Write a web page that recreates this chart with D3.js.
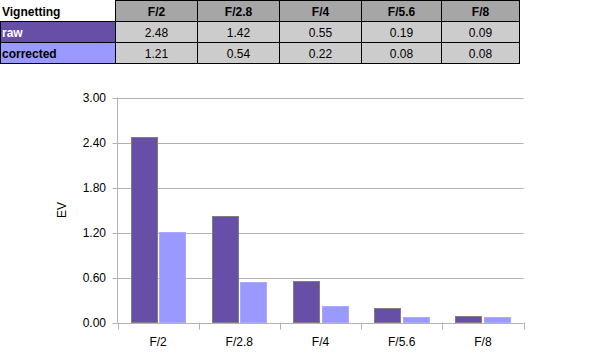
<!DOCTYPE html>
<html><head><meta charset="utf-8">
<script src="https://cdn.jsdelivr.net/npm/d3@7/dist/d3.min.js"></script>
<style>body{margin:0;background:#fff;}svg{display:block;font-family:"Liberation Sans",Arial,sans-serif;}</style>
</head><body><svg id="c" width="602" height="363"></svg>
<script>
const categories = ["F/2","F/2.8","F/4","F/5.6","F/8"];
const seriesNames = ["raw","corrected"];
const raw = [2.48,1.42,0.55,0.19,0.09];
const corrected = [1.21,0.54,0.22,0.08,0.08];
const yTicks = [0,0.6,1.2,1.8,2.4,3.0];
const tableTitle = "Vignetting";
const yTitle = "EV";

const svg = d3.select("#c");
const colors = {raw:"#674ea7", corrected:"#9999ff"};
const seriesVals = {raw, corrected};

// ---- table ----
const colEdges = [115,197,279,361,441,519];
const rowEdges = [0,21.5,42.5,63.5];
const tbl = svg.append("g");
categories.forEach((c,i)=>{
  tbl.append("rect").attr("x",colEdges[i]+0.5).attr("y",0.5).attr("width",colEdges[i+1]-colEdges[i]).attr("height",rowEdges[1]-0.5)
    .attr("fill","#a6a6a6").attr("stroke","#000");
  tbl.append("text").attr("x",(colEdges[i]+colEdges[i+1])/2+0.5).attr("y",16).attr("text-anchor","middle")
    .attr("font-size","12px").attr("font-weight","bold").attr("fill","#000").text(c);
});
tbl.append("text").attr("x",2).attr("y",16).attr("font-size","12px").attr("font-weight","bold").text(tableTitle);
seriesNames.forEach((s,r)=>{
  const y0 = rowEdges[r+1], y1 = rowEdges[r+2];
  tbl.append("rect").attr("x",0.5).attr("y",y0).attr("width",colEdges[0]).attr("height",y1-y0)
    .attr("fill",colors[s]).attr("stroke","#000");
  tbl.append("text").attr("x",2).attr("y",y0+15).attr("font-size","12px").attr("font-weight","bold")
    .attr("fill", s==="raw"?"#fff":"#000").text(s);
  seriesVals[s].forEach((v,i)=>{
    tbl.append("rect").attr("x",colEdges[i]+0.5).attr("y",y0).attr("width",colEdges[i+1]-colEdges[i]).attr("height",y1-y0)
      .attr("fill","#cccccc").attr("stroke","#000");
    tbl.append("text").attr("x",(colEdges[i]+colEdges[i+1])/2+0.5).attr("y",y0+15).attr("text-anchor","middle")
      .attr("font-size","12px").attr("fill","#000").text(v.toFixed(2));
  });
});

// ---- chart ----
const L=117.5, R=523.5, T=97.5, B=322.5;
const y = d3.scaleLinear().domain([0,3]).range([B,T]);
const x0 = d3.scaleBand().domain(categories).range([L,R]).paddingInner(0).paddingOuter(0);
const x1 = d3.scaleBand().domain(seriesNames).range([13, x0.bandwidth()-13]).paddingInner(0.07);

const g = svg.append("g");
g.selectAll(".grid").data(yTicks).join("line")
  .attr("x1",L-5).attr("x2",R).attr("y1",d=>Math.round(y(d))+0.5).attr("y2",d=>Math.round(y(d))+0.5)
  .attr("stroke","#b3b3b3").attr("stroke-width",1);
g.append("line").attr("x1",L).attr("x2",L).attr("y1",T).attr("y2",B).attr("stroke","#b3b3b3");
const edges = categories.map(c=>x0(c)).concat([R]);
g.selectAll(".xt").data(edges).join("line")
  .attr("x1",d=>Math.round(d)+0.5).attr("x2",d=>Math.round(d)+0.5).attr("y1",B).attr("y2",B+7)
  .attr("stroke","#b3b3b3");
g.selectAll(".yl").data(yTicks).join("text")
  .attr("x",106).attr("y",d=>y(d)+4).attr("text-anchor","end").attr("font-size","12px").attr("fill","#000")
  .text(d=>d.toFixed(2));
categories.forEach((c,i)=>{
  seriesNames.forEach(s=>{
    const v = seriesVals[s][i];
    const bx = x0(c)+x1(s);
    const r = g.append("rect").attr("x",Math.round(bx)+0.5).attr("y",Math.round(y(v))+0.5)
      .attr("width",Math.round(x1.bandwidth())-1).attr("height",Math.max(0,Math.round(B)-Math.round(y(v))-1))
      .attr("fill",colors[s]);
    if(s==="raw") r.attr("stroke","#7f7f7f").attr("stroke-width",1);
    else r.attr("stroke","#a9a9ff").attr("stroke-width",1);
  });
});
g.selectAll(".xl").data(categories).join("text")
  .attr("x",d=>x0(d)+x0.bandwidth()/2).attr("y",346).attr("text-anchor","middle").attr("font-size","12px")
  .text(d=>d);
g.append("text").attr("transform","translate(66,210) rotate(-90)").attr("text-anchor","middle")
  .attr("font-size","12px").text(yTitle);
</script></body></html>
